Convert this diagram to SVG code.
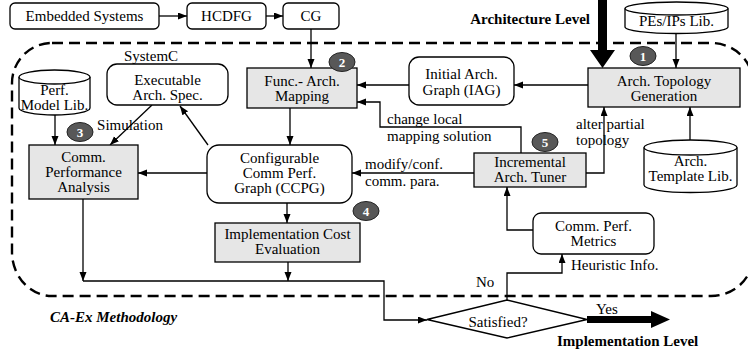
<svg xmlns="http://www.w3.org/2000/svg" width="748" height="352" viewBox="0 0 748 352">
  <defs>
    <marker id="arr" markerUnits="userSpaceOnUse" markerWidth="10" markerHeight="8" refX="9" refY="3.5" orient="auto">
      <path d="M0,0 L9,3.5 L0,7 z" fill="#000"/>
    </marker>
    <style>
      .box{fill:#fff;stroke:#000;stroke-width:1.3}
      .gray{fill:#e6e6e6;stroke:#000;stroke-width:1.3}
      .t{font-family:"Liberation Serif","Times New Roman",serif;font-size:15px;fill:#000;text-anchor:middle}
      .l{text-anchor:start}
      .e{text-anchor:end}
      .b{font-weight:bold}
      .i{font-style:italic}
      .ar{fill:none;stroke:#000;stroke-width:1.3;marker-end:url(#arr)}
      .step{fill:#585858;stroke:#222;stroke-width:1}
      .num{font-family:"Liberation Serif","Times New Roman",serif;font-weight:bold;font-size:13px;fill:#fff;text-anchor:middle}
      .dash{fill:none;stroke:#000;stroke-width:2.4;stroke-dasharray:11 6}
    </style>
  </defs>

  <!-- methodology boundary (right side runs just past the canvas edge) -->
  <path class="dash" d="M52,43 H711 A42 40 0 0 1 753 83 V256 A42 40 0 0 1 711 296 H52 A40 44 0 0 1 12 252 V83 A40 40 0 0 1 52 43"/>
  <text class="t b i l" x="50" y="322">CA-Ex Methodology</text>

  <!-- connectors -->
  <g id="connectors">
    <path class="ar" d="M159,16 H187"/>
    <path class="ar" d="M266,16 H283"/>
    <path class="ar" d="M311,29 V68"/>
    <path class="ar" d="M676,34 V68"/>
    <path class="ar" d="M588,85 H514"/>
    <path class="ar" d="M409,85 H357"/>
    <path class="ar" d="M521,153 V127 H380 V102 H357"/>
    <path class="ar" d="M586,173 H604 V107"/>
    <path class="ar" d="M690,140 V107"/>
    <path class="ar" d="M474,173 H352"/>
    <path class="ar" d="M533,230 H507 V187"/>
    <path class="ar" d="M290,108 V145"/>
    <path class="ar" d="M207,173 H138"/>
    <path class="ar" d="M55,115 V145"/>
    <path class="ar" d="M152,105 L110,145"/>
    <path class="ar" d="M208,145 L180,106"/>
    <path class="ar" d="M287,203 V223"/>
    <path class="ar" d="M83,199 V281"/>
    <path class="ar" d="M288,262 V281"/>
    <path class="ar" d="M83,281 H384 V320 H427"/>
    <path class="ar" d="M507,300 V273 H562 V254"/>
    <!-- level arrows -->
    <path d="M598,0 H607 V50 H615 L602.5,68 L590,50 H598 Z" fill="#000"/>
    <path d="M587,316 H651 V311 L670,319.5 L651,328 V323 H587 Z" fill="#000"/>
  </g>

  <!-- edge labels -->
  <text class="t b e" x="590" y="24">Architecture Level</text>
  <text class="t b l" x="557" y="346">Implementation Level</text>
  <text class="t l" x="387" y="124">change local</text>
  <text class="t l" x="387" y="141">mapping solution</text>
  <text class="t l" x="576" y="129">alter partial</text>
  <text class="t l" x="576" y="145">topology</text>
  <text class="t l" x="365" y="169">modify/conf.</text>
  <text class="t l" x="365" y="186">comm. para.</text>
  <text class="t" x="130" y="130">Simulation</text>
  <text class="t" x="151" y="61">SystemC</text>
  <text class="t l" x="571" y="270">Heuristic Info.</text>
  <text class="t l" x="476" y="287">No</text>
  <text class="t l" x="596" y="314">Yes</text>

  <!-- input chain -->
  <g id="embedded">
    <rect class="box" x="10" y="3" width="149" height="26" rx="5"/>
    <text class="t" x="84.5" y="21">Embedded Systems</text>
  </g>
  <g id="hcdfg">
    <rect class="box" x="187" y="3" width="79" height="26" rx="5"/>
    <text class="t" x="226.5" y="21">HCDFG</text>
  </g>
  <g id="cg">
    <rect class="box" x="283" y="3" width="56" height="26" rx="5"/>
    <text class="t" x="311" y="21">CG</text>
  </g>

  <!-- libraries -->
  <g id="pes-lib">
    <path class="box" d="M625,8.5 V27 A51.5 6.5 0 0 0 728 27 V8.5"/>
    <ellipse class="box" cx="676.5" cy="8.5" rx="51.5" ry="6.5"/>
    <text class="t" x="676.5" y="26">PEs/IPs Lib.</text>
  </g>
  <g id="template-lib">
    <path class="box" d="M644,147.5 V185 A46.5 7.5 0 0 0 737 185 V147.5"/>
    <ellipse class="box" cx="690.5" cy="147.5" rx="46.5" ry="7.5"/>
    <text class="t" x="690.5" y="166">Arch.</text>
    <text class="t" x="690.5" y="181">Template Lib.</text>
  </g>
  <g id="perf-lib">
    <path class="box" d="M19,77 V108 A35.5 7 0 0 0 90 108 V77"/>
    <ellipse class="box" cx="54.5" cy="77" rx="35.5" ry="7"/>
    <text class="t" x="54.5" y="95">Perf.</text>
    <text class="t" x="54.5" y="110">Model Lib.</text>
  </g>

  <!-- process steps -->
  <g id="topology">
    <rect class="gray" x="588" y="68" width="152" height="39"/>
    <text class="t" x="664" y="86">Arch. Topology</text>
    <text class="t" x="664" y="101">Generation</text>
  </g>
  <g id="iag">
    <rect class="box" x="409" y="57" width="105" height="48" rx="10"/>
    <text class="t" x="461.5" y="79">Initial Arch.</text>
    <text class="t" x="461.5" y="95">Graph (IAG)</text>
  </g>
  <g id="mapping">
    <rect class="gray" x="247" y="68" width="110" height="40"/>
    <text class="t" x="302" y="86">Func.- Arch.</text>
    <text class="t" x="302" y="101">Mapping</text>
  </g>
  <g id="exec-spec">
    <rect class="box" x="107" y="64" width="121" height="41" rx="10"/>
    <text class="t" x="167.5" y="85">Executable</text>
    <text class="t" x="167.5" y="100">Arch. Spec.</text>
  </g>
  <g id="comm-analysis">
    <rect class="gray" x="29" y="145" width="109" height="54"/>
    <text class="t" x="83.5" y="162">Comm.</text>
    <text class="t" x="83.5" y="177">Performance</text>
    <text class="t" x="83.5" y="192">Analysis</text>
  </g>
  <g id="ccpg">
    <rect class="box" x="207" y="145" width="145" height="58" rx="12"/>
    <text class="t" x="279.5" y="163">Configurable</text>
    <text class="t" x="279.5" y="178">Comm Perf.</text>
    <text class="t" x="279.5" y="193">Graph (CCPG)</text>
  </g>
  <g id="tuner">
    <rect class="gray" x="474" y="153" width="112" height="34"/>
    <text class="t" x="530" y="167">Incremental</text>
    <text class="t" x="530" y="182">Arch. Tuner</text>
  </g>
  <g id="cost-eval">
    <rect class="gray" x="215" y="223" width="145" height="39"/>
    <text class="t" x="287.5" y="239">Implementation Cost</text>
    <text class="t" x="287.5" y="254">Evaluation</text>
  </g>
  <g id="metrics">
    <rect class="box" x="533" y="213" width="121" height="41" rx="8"/>
    <text class="t" x="593.5" y="231">Comm. Perf.</text>
    <text class="t" x="593.5" y="246">Metrics</text>
  </g>
  <g id="satisfied">
    <path class="box" d="M427,319.5 L507,300 L587,319.5 L507,338 Z"/>
    <text class="t" x="498" y="327">Satisfied?</text>
  </g>

  <!-- step numbers -->
  <g id="step1"><ellipse class="step" cx="643" cy="56" rx="13" ry="9.5"/><text class="num" x="643" y="60.5">1</text></g>
  <g id="step2"><ellipse class="step" cx="342" cy="62" rx="13" ry="9.5"/><text class="num" x="342" y="66.5">2</text></g>
  <g id="step3"><ellipse class="step" cx="80" cy="132" rx="13" ry="9.5"/><text class="num" x="80" y="136.5">3</text></g>
  <g id="step4"><ellipse class="step" cx="366" cy="211" rx="13" ry="9.5"/><text class="num" x="366" y="215.5">4</text></g>
  <g id="step5"><ellipse class="step" cx="545" cy="142" rx="13" ry="9.5"/><text class="num" x="545" y="146.5">5</text></g>
</svg>
